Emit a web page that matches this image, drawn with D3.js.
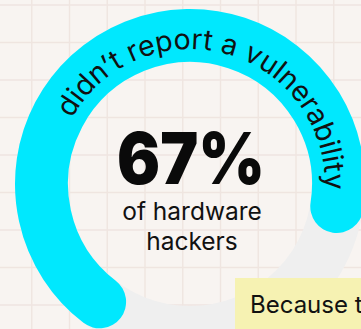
<!DOCTYPE html>
<html><head><meta charset="utf-8">
<script src="https://cdn.jsdelivr.net/npm/d3@7"></script>
<style>html,body{margin:0;padding:0;background:#f8f4f1;overflow:hidden}svg{display:block}</style>
</head><body>
<svg id="c" width="361" height="329"></svg>
<script>
// ---- data ----
const shareValues = [67];                       // percent of hardware hackers
const shareTotal = [100];
const bigLabels = ["67%"];
const centerLabels = ["of hardware", "hackers"];
const arcLabels = ["didn\u2019t report a vulnerability"];
const noteLabels = ["Because they didn\u2019t know who to contact"];

const W = 361, H = 329;
const svg = d3.select("#c");
const cx = 190, cy = 184, rMid = 148.5, band = 53;
const startDeg = -142.5;

svg.append("rect").attr("width", W).attr("height", H).attr("fill", "#f8f4f1");

// grid
const gx = d3.range(-6, W + 1, 37.75), gy = d3.range(5, H + 1, 37.5);
const grid = svg.append("g").attr("stroke", "#efe5e0").attr("stroke-width", 1.4);
grid.selectAll("line.v").data(gx).join("line").attr("x1", d => d).attr("x2", d => d).attr("y1", 0).attr("y2", H);
grid.selectAll("line.h").data(gy).join("line").attr("y1", d => d).attr("y2", d => d).attr("x1", 0).attr("x2", W);

// angle scale: 0..100% -> full turn from start
const ang = d3.scaleLinear().domain([0, shareTotal[0]]).range([startDeg, startDeg + 360]);
const rad = d => (d - 90) * Math.PI / 180;

// track
svg.append("circle").attr("cx", cx).attr("cy", cy).attr("r", rMid)
  .attr("fill", "none").attr("stroke", "#efefef").attr("stroke-width", band);

// value arc
const p = d3.path();
p.arc(cx, cy, rMid, rad(ang(0)), rad(ang(shareValues[0])), false);
svg.append("path").attr("d", p.toString()).attr("fill", "none")
  .attr("stroke", "#00e8fe").attr("stroke-width", band).attr("stroke-linecap", "round");

// text path
const rText = 135;
const tp = d3.path();
const a0 = -61, a1 = 170;
tp.moveTo(cx + rText * Math.cos(rad(a0)), cy + rText * Math.sin(rad(a0)));
tp.arc(cx, cy, rText, rad(a0), rad(a1), false);
svg.append("defs").append("path").attr("id", "tpath").attr("d", tp.toString());
svg.append("text").attr("font-family", "Inter, sans-serif").attr("font-size", 28.5).attr("fill", "#111")
  .append("textPath").attr("href", "#tpath").text(arcLabels[0]);

// center text
svg.append("text").attr("x", 191).attr("y", 184).attr("text-anchor", "middle")
  .attr("font-family", "Inter, sans-serif").attr("font-weight", 900).attr("font-size", 72)
  .attr("textLength", 148).attr("lengthAdjust", "spacingAndGlyphs")
  .attr("fill", "#0a0a0a").text(bigLabels[0]);
svg.selectAll("text.sub").data(centerLabels).join("text").attr("class", "sub")
  .attr("x", 192).attr("y", (d, i) => 220 + i * 30).attr("text-anchor", "middle")
  .attr("font-family", "Inter, sans-serif").attr("font-size", 24.5).attr("fill", "#111").text(d => d);

// note box
svg.append("rect").attr("x", 235).attr("y", 278).attr("width", 300).attr("height", 100).attr("fill", "#f6f2b2");
svg.append("text").attr("x", 250).attr("y", 313).attr("font-family", "Inter, sans-serif")
  .attr("font-size", 24).attr("fill", "#111").text(noteLabels[0]);
</script>
</body></html>
